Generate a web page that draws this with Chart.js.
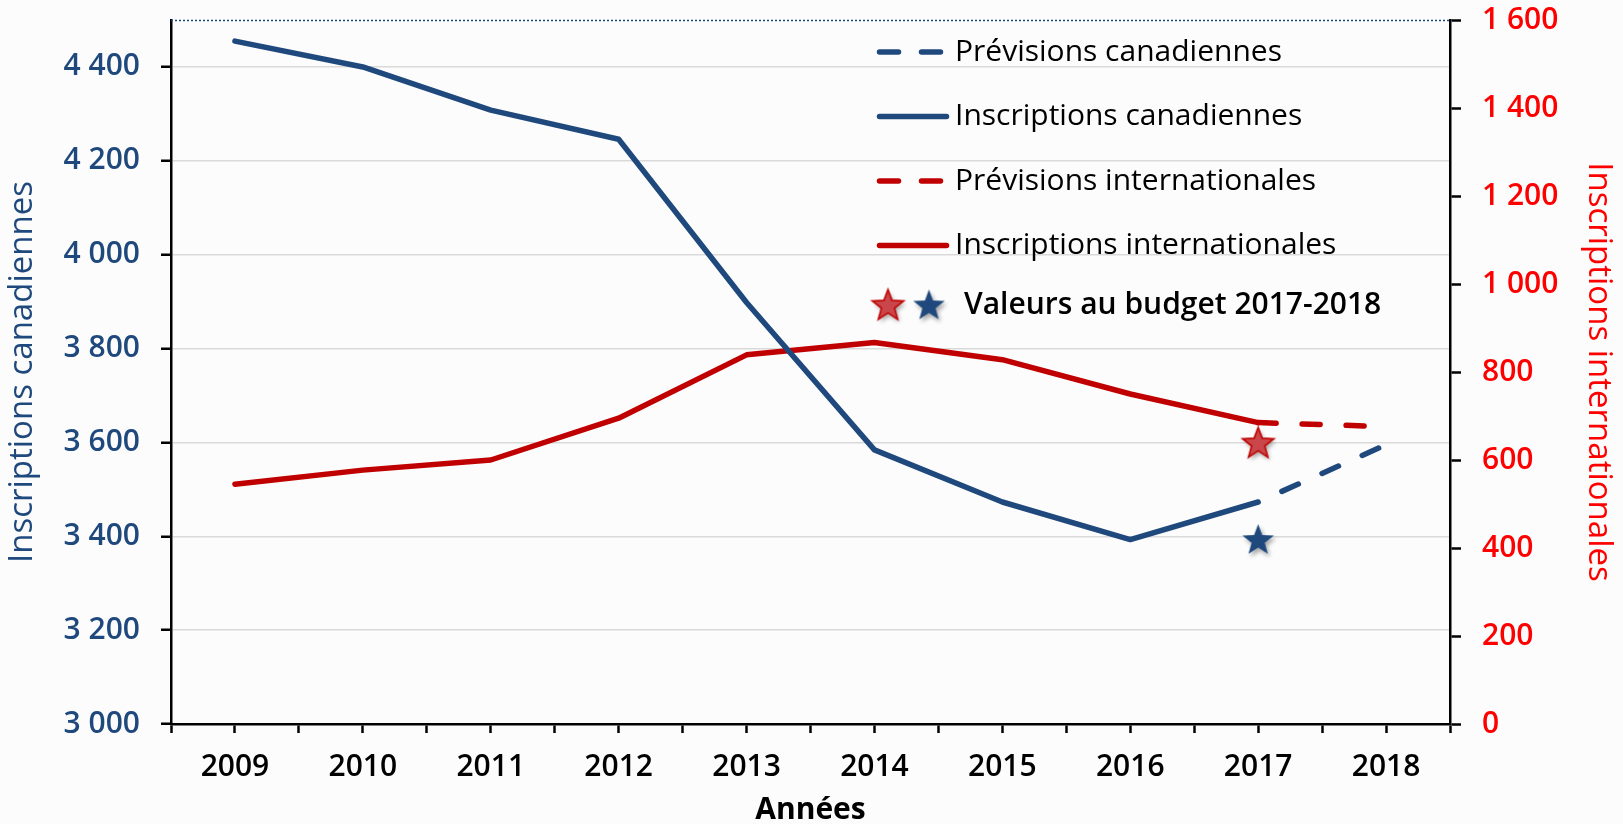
<!DOCTYPE html>
<html>
<head>
<meta charset="utf-8">
<script src="https://cdn.jsdelivr.net/npm/chart.js@4.4.1/dist/chart.umd.min.js"></script>
<style>
html, body { margin: 0; padding: 0; background: #fcfcfc; }
#wrap { width: 1623px; height: 824px; position: relative; }
</style>
</head>
<body>
<div id="wrap"><canvas id="c" width="1623" height="824"></canvas></div>
<script>
// ---------- data ----------
const years = [2009, 2010, 2011, 2012, 2013, 2014, 2015, 2016, 2017];
const forecastYears = [2017, 2018];
const canadianEnrolment = [4455, 4400, 4308, 4246, 3898, 3584, 3473, 3393, 3473];
const canadianForecast = [3473, 3595];
const internationalEnrolment = [545, 577, 600, 695, 839, 867, 828, 750, 685];
const internationalForecast = [685, 676];
const budgetYear = [2017];
const budgetCanadian = [3393];
const budgetInternational = [639];

const seriesLabels = ['Prévisions canadiennes', 'Inscriptions canadiennes', 'Prévisions internationales', 'Inscriptions internationales'];
const budgetLabel = 'Valeurs au budget 2017-2018';
const xAxisTitle = 'Années';
const leftAxisTitle = 'Inscriptions canadiennes';
const rightAxisTitle = 'Inscriptions internationales';
const leftRange = { min: 3000, max: 4500, step: 200, lastTick: 4400 };
const rightRange = { min: 0, max: 1600, step: 200 };
const xRange = { min: 2008.5, max: 2018.5, step: 0.5 };

// ---------- helpers ----------
const FONT = "'Open Sans', sans-serif";
const BLUE = '#1F497D';
const RED = '#C00000';
const toPts = (xs, ys) => xs.map((x, i) => ({ x: x, y: ys[i] }));
const fmt = v => String(v).replace(/\B(?=(\d{3})+(?!\d))/g, ' ');
const noPad = s => { s.paddingTop = 0; s.paddingBottom = 0; s.paddingLeft = 0; s.paddingRight = 0; };

function makeStar(fill, stroke, r) {
  const c = document.createElement('canvas');
  const size = 2 * r + 14;
  c.width = size; c.height = size;
  const g = c.getContext('2d');
  const cx = size / 2, cy = size / 2 + 1;
  g.beginPath();
  for (let i = 0; i < 10; i++) {
    const a = -Math.PI / 2 + i * Math.PI / 5;
    const rad = i % 2 === 0 ? r : r * 0.42;
    g.lineTo(cx + rad * Math.cos(a), cy + rad * Math.sin(a));
  }
  g.closePath();
  g.save();
  g.shadowColor = 'rgba(0,0,0,0.35)';
  g.shadowBlur = 4; g.shadowOffsetX = 2; g.shadowOffsetY = 3;
  g.fillStyle = fill;
  g.fill();
  g.restore();
  if (stroke) { g.lineWidth = 1.6; g.strokeStyle = stroke; g.stroke(); }
  return c;
}
const redStar = makeStar('#C9474A', '#C00000', 16.5);
const blueStar = makeStar(BLUE, null, 16.5);

// ---------- plugins ----------
const topLine = {
  id: 'topLine',
  afterDatasetsDraw(chart) {
    const { ctx, chartArea } = chart;
    ctx.save();
    ctx.strokeStyle = BLUE;
    ctx.lineWidth = 1.5;
    ctx.setLineDash([2, 2]);
    ctx.beginPath();
    ctx.moveTo(chartArea.left, chartArea.top + 0.5);
    ctx.lineTo(chartArea.right, chartArea.top + 0.5);
    ctx.stroke();
    ctx.restore();
  }
};

const customLegend = {
  id: 'customLegend',
  afterDraw(chart, args, o) {
    const { ctx, chartArea } = chart;
    const x0 = chartArea.left + o.offsetX;
    ctx.save();
    ctx.textBaseline = 'middle';
    ctx.textAlign = 'left';
    ctx.fillStyle = '#000';
    o.items.forEach((dsIndex, i) => {
      const ds = chart.data.datasets[dsIndex];
      const y = chartArea.top + o.firstY + i * o.rowGap;
      ctx.beginPath();
      ctx.lineCap = 'round';
      ctx.lineWidth = ds.borderWidth;
      ctx.strokeStyle = ds.borderColor;
      ctx.setLineDash(ds.borderDash && ds.borderDash.length ? o.sampleDash : []);
      ctx.moveTo(x0 + 2.5, y);
      ctx.lineTo(x0 + o.sampleWidth - 2.5, y);
      ctx.stroke();
      ctx.setLineDash([]);
      ctx.font = '400 30px ' + FONT;
      ctx.fillText(ds.label, x0 + o.textOffset, y);
    });
    const yb = chartArea.top + o.budgetY;
    ctx.drawImage(redStar, x0 + o.star1X - redStar.width / 2, yb - redStar.height / 2);
    ctx.drawImage(blueStar, x0 + o.star2X - blueStar.width / 2, yb - blueStar.height / 2);
    ctx.font = '600 30px ' + FONT;
    ctx.fillText(budgetLabel, x0 + o.budgetTextX, yb);
    ctx.restore();
  }
};

// ---------- chart ----------
Chart.defaults.font.family = FONT;

new Chart(document.getElementById('c'), {
  type: 'line',
  data: {
    datasets: [
      {
        label: seriesLabels[0],
        data: toPts(forecastYears, canadianForecast),
        yAxisID: 'y',
        borderColor: BLUE, borderWidth: 5.5,
        borderDash: [18, 26], borderDashOffset: 18,
        borderCapStyle: 'round', pointRadius: 0, tension: 0
      },
      {
        label: seriesLabels[1],
        data: toPts(years, canadianEnrolment),
        yAxisID: 'y',
        borderColor: BLUE, borderWidth: 5.5,
        borderCapStyle: 'round', borderJoinStyle: 'round', pointRadius: 0, tension: 0
      },
      {
        label: seriesLabels[2],
        data: toPts(forecastYears, internationalForecast),
        yAxisID: 'y1',
        borderColor: RED, borderWidth: 5.5,
        borderDash: [18, 26],
        borderCapStyle: 'round', pointRadius: 0, tension: 0
      },
      {
        label: seriesLabels[3],
        data: toPts(years, internationalEnrolment),
        yAxisID: 'y1',
        borderColor: RED, borderWidth: 5.5,
        borderCapStyle: 'round', borderJoinStyle: 'round', pointRadius: 0, tension: 0
      },
      {
        label: budgetLabel + ' (canadiennes)',
        data: toPts(budgetYear, budgetCanadian),
        yAxisID: 'y',
        showLine: false, pointStyle: blueStar, pointRadius: 16
      },
      {
        label: budgetLabel + ' (internationales)',
        data: toPts(budgetYear, budgetInternational),
        yAxisID: 'y1',
        showLine: false, pointStyle: redStar, pointRadius: 16
      }
    ]
  },
  options: {
    responsive: false,
    animation: false,
    layout: { padding: { top: 20, left: 0, right: 0, bottom: 0 } },
    plugins: {
      legend: { display: false },
      tooltip: { enabled: false },
      customLegend: {
        offsetX: 706, firstY: 32, rowGap: 64.5, sampleWidth: 72, textOffset: 78,
        sampleDash: [19, 23], items: [0, 1, 2, 3],
        budgetY: 285, star1X: 11, star2X: 52, budgetTextX: 87
      }
    },
    scales: {
      x: {
        type: 'linear',
        position: 'bottom',
        min: xRange.min, max: xRange.max,
        afterFit: s => { s.height = 100; noPad(s); },
        ticks: {
          stepSize: xRange.step, autoSkip: false, maxRotation: 0, minRotation: 0,
          padding: 16, color: '#000',
          font: { size: 30, weight: '600' },
          callback: v => Number.isInteger(v) ? String(v) : ''
        },
        grid: { drawOnChartArea: false, tickLength: 9, tickColor: '#000', tickWidth: 2.5 },
        border: { color: '#000', width: 2.5 },
        title: {
          display: true, text: xAxisTitle, color: '#000',
          font: { size: 30, weight: '700' }, padding: { top: 0, bottom: -4 }
        }
      },
      y: {
        type: 'linear',
        position: 'left',
        min: leftRange.min, max: leftRange.max,
        afterFit: s => { s.width = 171; noPad(s); },
        afterBuildTicks: s => { s.ticks = s.ticks.filter(t => t.value <= leftRange.lastTick); },
        ticks: {
          stepSize: leftRange.step, padding: 21, color: BLUE,
          font: { size: 30, weight: '600' },
          callback: v => fmt(v)
        },
        grid: {
          color: c => (c.tick && c.tick.value === leftRange.min) ? 'rgba(0,0,0,0)' : '#d9d9d9',
          lineWidth: 1.5, tickLength: 10, tickColor: '#000', tickWidth: 2.5
        },
        border: { color: '#000', width: 2.5 },
        title: {
          display: true, text: leftAxisTitle, color: BLUE,
          font: { size: 33, weight: '500' }, padding: { top: 3, bottom: 0 }
        }
      },
      y1: {
        type: 'linear',
        position: 'right',
        min: rightRange.min, max: rightRange.max,
        afterFit: s => { s.width = 173; noPad(s); },
        ticks: {
          stepSize: rightRange.step, padding: 21, color: '#FF0000',
          font: { size: 30, weight: '600' },
          callback: v => fmt(v)
        },
        grid: { drawOnChartArea: false, tickLength: 11, tickColor: '#000', tickWidth: 2.5 },
        border: { color: '#000', width: 2.5 },
        title: {
          display: true, text: rightAxisTitle, color: '#FF0000',
          font: { size: 33, weight: '500' }, padding: { top: 5, bottom: 0 }
        }
      }
    }
  },
  plugins: [topLine, customLegend]
});
</script>
</body>
</html>
